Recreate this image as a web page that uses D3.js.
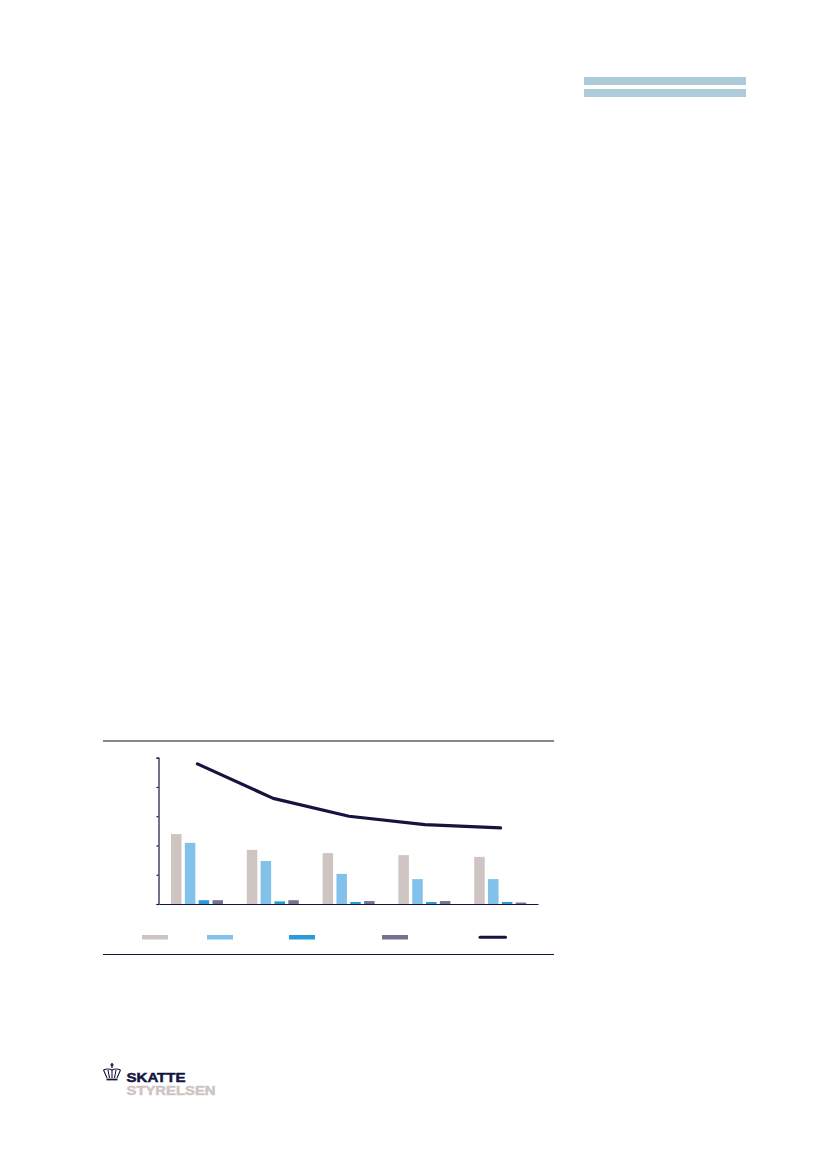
<!DOCTYPE html>
<html>
<head>
<meta charset="utf-8">
<script src="https://cdn.jsdelivr.net/npm/d3@7"></script>
<style>
  html, body { margin: 0; padding: 0; background: #fff; }
  svg { display: block; }
  text { font-family: "Liberation Sans", sans-serif; font-weight: 700; }
</style>
</head>
<body>
<div id="my_dataviz"></div>
<script>
// values, the reference shows no labels so the groups are just numbered
var groups = ["1", "2", "3", "4", "5"];
var barSeries = ["a", "b", "c", "d"];
var seriesA = [23.9, 18.5, 17.4, 16.7, 16.1];
var seriesB = [20.9, 14.7, 10.3, 8.5, 8.5];
var seriesC = [1.3, 0.9, 0.7, 0.7, 0.7];
var seriesD = [1.3, 1.3, 1.0, 1.0, 0.5];
var lineValues = [47.9, 36.1, 30.0, 27.1, 26.0];
var yTicks = [0, 10, 20, 30, 40, 50];

var barColors = ["#cec5c3", "#82c2ea", "#2b9ad9", "#73738f"];
var lineColor = "#14143f";

var svg = d3.select("#my_dataviz")
  .append("svg")
    .attr("width", 827)
    .attr("height", 1169);

// header stripes, top right
svg.selectAll(".stripe")
  .data([77, 89])
  .enter().append("rect")
    .attr("class", "stripe")
    .attr("x", 584)
    .attr("y", function(d) { return d; })
    .attr("width", 162)
    .attr("height", 8)
    .attr("fill", "#adcbd9");

// rules above and below the chart
svg.append("line")
  .attr("x1", 103).attr("x2", 554).attr("y1", 741).attr("y2", 741)
  .attr("stroke", "#5f5f66").attr("stroke-width", 1.3);
svg.append("line")
  .attr("x1", 103).attr("x2", 554).attr("y1", 954.5).attr("y2", 954.5)
  .attr("stroke", lineColor).attr("stroke-width", 1);

// scales
var x = d3.scaleBand().domain(groups).range([159, 538]);
var y = d3.scaleLinear().domain([0, 50]).range([904, 757.7]);
var inner = d3.scaleBand().domain(barSeries).range([12, 64]).paddingInner(0.24);

// bars
var rows = [seriesA, seriesB, seriesC, seriesD];
barSeries.forEach(function(s, i) {
  svg.selectAll(".bar-" + s)
    .data(rows[i])
    .enter().append("rect")
      .attr("class", "bar-" + s)
      .attr("x", function(d, j) { return x(groups[j]) + inner(s); })
      .attr("y", function(d) { return y(d); })
      .attr("width", inner.bandwidth())
      .attr("height", function(d) { return y(0) - y(d); })
      .attr("fill", barColors[i]);
});

// axes
svg.append("g")
  .attr("transform", "translate(158.5,0)")
  .call(d3.axisLeft(y).tickValues(yTicks).tickSize(2).tickFormat(""))
  .call(function(g) {
    g.selectAll("path, line").attr("stroke", lineColor).attr("stroke-width", 1.2);
  });
svg.append("g")
  .attr("transform", "translate(0,904)")
  .call(d3.axisBottom(x).tickSize(0).tickFormat(""))
  .call(function(g) {
    g.selectAll("path").attr("stroke", lineColor).attr("stroke-width", 1.2);
  });

// the line
svg.append("path")
  .datum(lineValues)
  .attr("fill", "none")
  .attr("stroke", lineColor)
  .attr("stroke-width", 3.2)
  .attr("stroke-linecap", "round")
  .attr("stroke-linejoin", "round")
  .attr("d", d3.line()
    .x(function(d, i) { return x(groups[i]) + x.bandwidth() / 2 + 0.5; })
    .y(function(d) { return y(d); }));

// legend swatches, the labels are missing in the reference
var legendX = [142, 207, 289, 382];
svg.selectAll(".swatch")
  .data(legendX)
  .enter().append("rect")
    .attr("class", "swatch")
    .attr("x", function(d) { return d; })
    .attr("y", 935)
    .attr("width", 26)
    .attr("height", 4.5)
    .attr("fill", function(d, i) { return barColors[i]; });
svg.append("line")
  .attr("x1", 480).attr("x2", 505.5).attr("y1", 937.3).attr("y2", 937.3)
  .attr("stroke", lineColor).attr("stroke-width", 3).attr("stroke-linecap", "round");

// logo
var logo = svg.append("g").attr("fill", lineColor);
logo.append("text")
  .attr("x", 126.5).attr("y", 1081.5)
  .attr("font-size", 13.5)
  .attr("textLength", 59)
  .attr("lengthAdjust", "spacingAndGlyphs")
  .attr("stroke", lineColor).attr("stroke-width", 0.5)
  .text("SKATTE");
logo.append("text")
  .attr("x", 126.5).attr("y", 1094.5)
  .attr("font-size", 12.5)
  .attr("textLength", 89)
  .attr("lengthAdjust", "spacingAndGlyphs")
  .attr("fill", "#cec5c3")
  .attr("stroke", "#cec5c3").attr("stroke-width", 0.5)
  .text("STYRELSEN");

// crown
var crown = svg.append("g").attr("fill", "none").attr("stroke", lineColor).attr("stroke-width", 1.1);
crown.append("path").attr("d", "M103.5 1070 Q108 1068 112 1070 Q116 1068 120.5 1070");
crown.append("path").attr("d", "M103.5 1070 L107 1078 M108 1070 L109.5 1078 M112 1070 L112 1078 M116 1070 L114.5 1078 M120.5 1070 L117 1078");
crown.append("path").attr("d", "M106.5 1079.5 H117.5").attr("stroke-width", 1.8);
crown.append("path").attr("d", "M112 1063 V1068 M110.5 1065 H113.5").attr("stroke-width", 1.4);
</script>
</body>
</html>
